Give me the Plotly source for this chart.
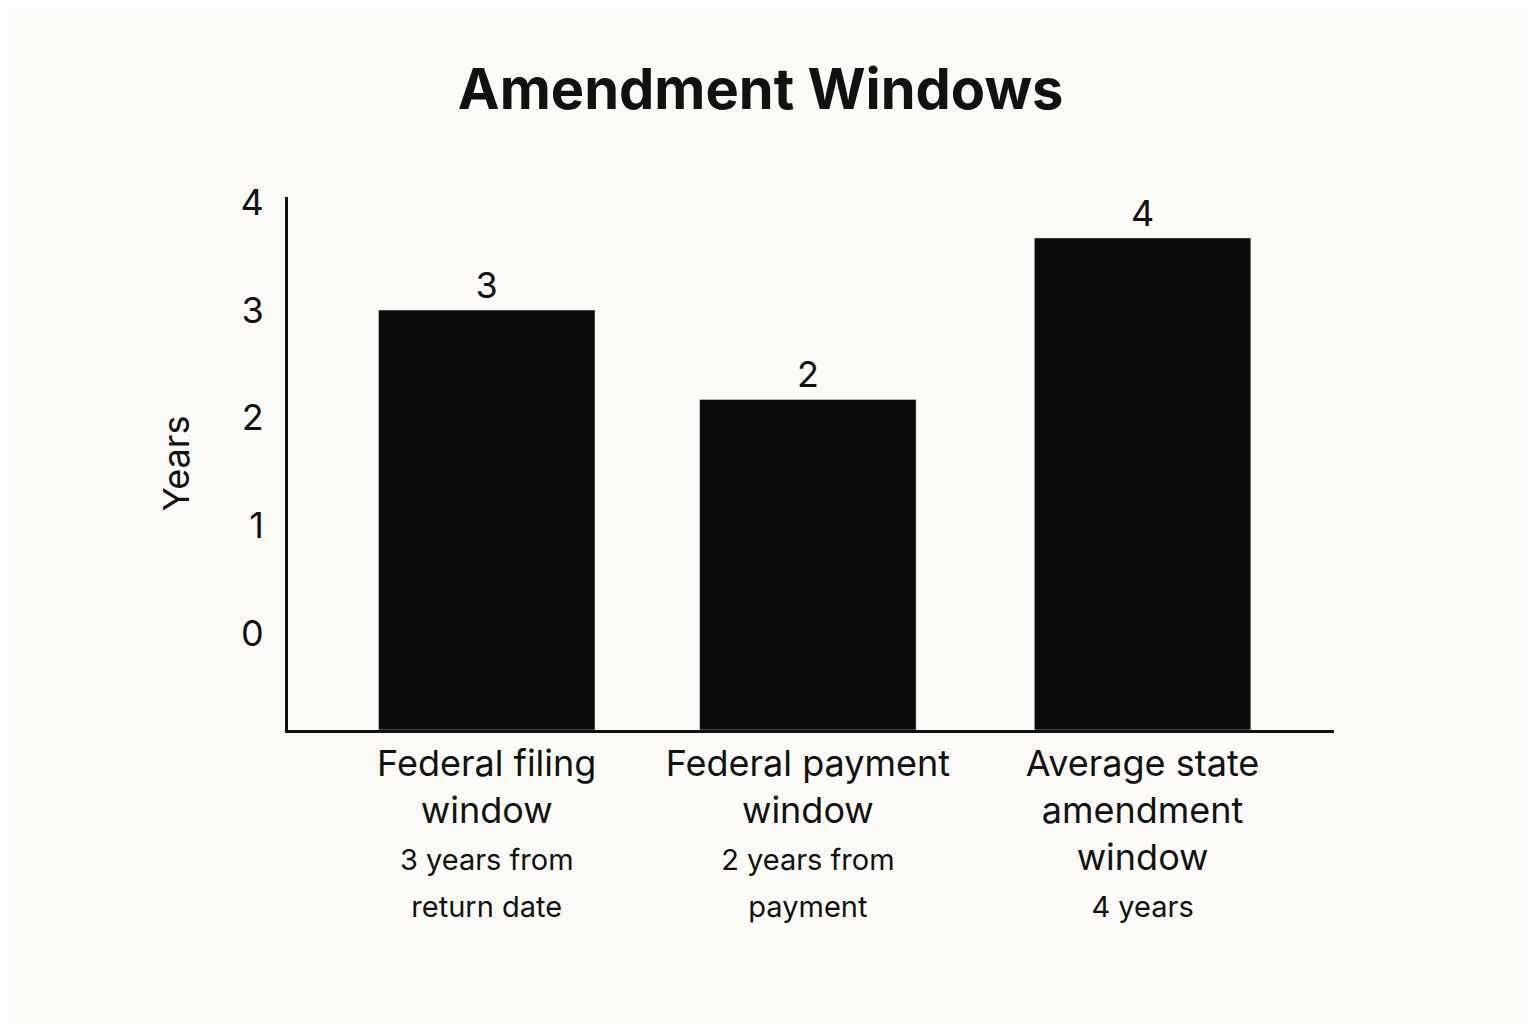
import plotly.graph_objects as go

categories = ["Federal filing<br>window<br><span style='font-size:29px'>3 years from<br>return date</span>",
              "Federal payment<br>window<br><span style='font-size:29px'>2 years from<br>payment</span>",
              "Average state<br>amendment<br>window<br><span style='font-size:29px'>4 years</span>"]
positions = [0.19, 0.497, 0.817]
bar_tops = [3.0, 2.17, 3.67]
value_labels = ["3", "2", "4"]
yticks = [0, 1, 2, 3, 4]
base = -0.9

fig = go.Figure(go.Bar(
    x=positions, y=[t - base for t in bar_tops], base=base, width=0.207,
    marker_color="#0b0b0b", text=value_labels, textposition="outside",
    textfont=dict(size=36, color="#111"), cliponaxis=False))

fig.update_layout(
    width=1536, height=1024, paper_bgcolor="#fbfaf6", plot_bgcolor="#fbfaf6",
    font=dict(family="Inter, Noto Sans, sans-serif", color="#111"),
    title=dict(text="<b>Amendment Windows</b>", x=0.49, xanchor="center", y=0.94,
               font=dict(size=56)),
    margin=dict(l=280, r=210, t=189, b=302), showlegend=False,
    xaxis=dict(range=[0, 1], tickvals=positions, ticktext=categories, showgrid=False,
               showline=True, linecolor="#111", linewidth=3, ticks="",
               tickfont=dict(size=36), zeroline=False),
    yaxis=dict(range=[base, 4.05], tickvals=yticks, showgrid=False, zeroline=False,
               showline=True, linecolor="#111", linewidth=3, ticks="",
               tickfont=dict(size=36), ticklabelstandoff=14,
               title=dict(text="Years", font=dict(size=36), standoff=40)),
)
fig.write_html("out.html")
